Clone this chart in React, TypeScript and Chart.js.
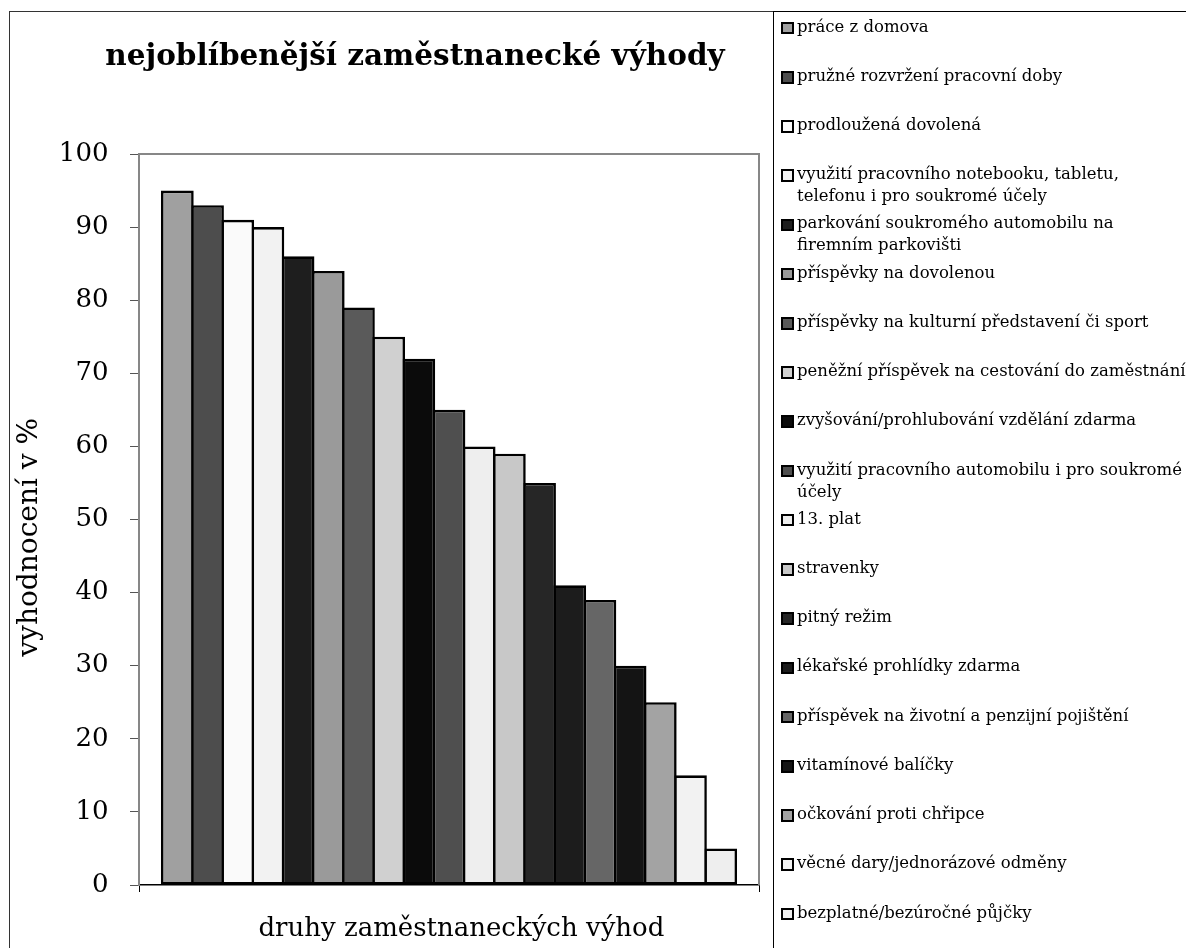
import React, { useEffect, useRef } from "react";
import { Chart, registerables } from "chart.js";

Chart.register(...registerables);

// ---------- data ----------
const chartTitle = "nejoblíbenější zaměstnanecké výhody";
const yAxisTitle = "vyhodnocení v %";
const xAxisTitle = "druhy zaměstnaneckých výhod";

const benefitLabels = [
  "práce z domova",
  "pružné rozvržení pracovní doby",
  "prodloužená dovolená",
  "využití pracovního notebooku, tabletu,\ntelefonu i pro soukromé účely",
  "parkování soukromého automobilu na\nfiremním parkovišti",
  "příspěvky na dovolenou",
  "příspěvky na kulturní představení či sport",
  "peněžní příspěvek na cestování do zaměstnání",
  "zvyšování/prohlubování vzdělání zdarma",
  "využití pracovního automobilu i pro soukromé\núčely",
  "13. plat",
  "stravenky",
  "pitný režim",
  "lékařské prohlídky zdarma",
  "příspěvek na životní a penzijní pojištění",
  "vitamínové balíčky",
  "očkování proti chřipce",
  "věcné dary/jednorázové odměny",
  "bezplatné/bezúročné půjčky",
];

const benefitValues = [95, 93, 91, 90, 86, 84, 79, 75, 72, 65, 60, 59, 55, 41, 39, 30, 25, 15, 5];

const benefitColors = [
  "#a0a0a0", "#4d4d4d", "#fafafa", "#f2f2f2", "#1e1e1e", "#9a9a9a", "#5a5a5a",
  "#d0d0d0", "#0b0b0b", "#4f4f4f", "#eeeeee", "#c8c8c8", "#262626", "#1c1c1c",
  "#666666", "#141414", "#a3a3a3", "#f2f2f2", "#eeeeee",
];

const yMin = 0;
const yMax = 100;
const yStep = 10;

// ---------- layout ----------
const FONT = "'DejaVu Serif', 'Liberation Serif', serif";
const CANVAS_LEFT = 10;
const CANVAS_TOP = 12;
const CANVAS_W = 810;
const CANVAS_H = 936;

const plotFramePlugin = {
  id: "plotFrame",
  afterDraw(chart: any) {
    const { ctx, chartArea } = chart;
    ctx.save();
    ctx.strokeStyle = "#878787";
    ctx.lineWidth = 2;
    ctx.beginPath();
    ctx.moveTo(chartArea.left, chartArea.top);
    ctx.lineTo(chartArea.right, chartArea.top);
    ctx.lineTo(chartArea.right, chartArea.bottom);
    ctx.stroke();
    ctx.restore();
  },
};

function BarChart() {
  const ref = useRef<HTMLCanvasElement | null>(null);

  useEffect(() => {
    if (!ref.current) return;
    const chart = new Chart(ref.current, {
      type: "bar",
      data: {
        labels: [""],
        datasets: benefitLabels.map((label, i) => ({
          label: label.replace("\n", " "),
          data: [benefitValues[i]],
          backgroundColor: benefitColors[i],
          borderColor: "#000000",
          borderWidth: 2.6,
          borderSkipped: false,
          yAxisID: "y",
          categoryPercentage: 0.925,
          barPercentage: 1.085,
        })),
      },
      options: {
        animation: false,
        responsive: false,
        devicePixelRatio: 1,
        layout: { padding: 0 },
        plugins: {
          legend: { display: false },
          tooltip: { enabled: false },
          title: {
            display: true,
            text: chartTitle,
            color: "#000000",
            font: { family: FONT, size: 29.5, weight: "bold", lineHeight: 1.2 },
            padding: { top: 28, bottom: 78.6 },
          },
        },
        scales: {
          x: {
            type: "category",
            offset: true,
            grid: {
              display: true,
              drawOnChartArea: false,
              drawTicks: true,
              tickLength: 7,
              color: "#000000",
              lineWidth: 1,
              offset: true,
            },
            border: { display: true, color: "#000000", width: 1.5 },
            ticks: { display: false },
            title: {
              display: true,
              text: "   " + xAxisTitle,
              color: "#000000",
              font: { family: FONT, size: 26, lineHeight: 1.2 },
              padding: { top: 0, bottom: 3.4 },
            },
            afterFit: (s: any) => {
              s.height = 63;
            },
          },
          y: {
            type: "linear",
            position: "left",
            min: yMin,
            max: yMax,
            grid: {
              display: true,
              drawOnChartArea: false,
              drawTicks: true,
              tickLength: 9,
              color: "#555555",
              lineWidth: 1,
            },
            border: { display: true, color: "#878787", width: 2 },
            ticks: {
              stepSize: yStep,
              color: "#000000",
              padding: 21.5,
              font: { family: FONT, size: 26 },
            },
            title: {
              display: true,
              text: yAxisTitle + "    ",
              color: "#000000",
              font: { family: FONT, size: 28, lineHeight: 1.2 },
              padding: { top: 2.8, bottom: 0 },
            },
            afterFit: (s: any) => {
              s.width = 129;
            },
          },
          yRight: {
            type: "linear",
            position: "right",
            display: true,
            grid: { display: false },
            border: { display: false },
            ticks: { display: false },
            title: { display: false },
            afterFit: (s: any) => {
              s.width = 61;
            },
          },
        },
      },
      plugins: [plotFramePlugin],
    } as any);
    return () => chart.destroy();
  }, []);

  return (
    <canvas
      ref={ref}
      width={CANVAS_W}
      height={CANVAS_H}
      style={{
        position: "absolute",
        left: CANVAS_LEFT,
        top: CANVAS_TOP,
        width: CANVAS_W,
        height: CANVAS_H,
      }}
    />
  );
}

function Legend() {
  const firstCenter = 27;
  const pitch = 49.22;
  return (
    <div
      style={{
        position: "absolute",
        left: 773,
        top: 11,
        width: 440,
        height: 960,
        borderLeft: "1px solid #000",
        borderTop: "1px solid #000",
      }}
    >
      {benefitLabels.map((label, i) => {
        const center = firstCenter + i * pitch - 11;
        return (
          <div key={i} style={{ position: "absolute", left: 0, top: center - 12.4, width: 440 }}>
            <span
              style={{
                position: "absolute",
                left: 7,
                top: 12.4 - 6.3,
                width: 8.6,
                height: 8.6,
                border: "2px solid #000",
                background: benefitColors[i],
              }}
            />
            <div
              style={{
                position: "absolute",
                left: 23,
                top: 0,
                whiteSpace: "pre",
                fontFamily: FONT,
                fontSize: 16.5,
                lineHeight: "22px",
                color: "#000",
              }}
            >
              {label}
            </div>
          </div>
        );
      })}
    </div>
  );
}

export default function App() {
  return (
    <div
      style={{
        position: "fixed",
        left: 0,
        top: 0,
        width: 1186,
        height: 948,
        overflow: "hidden",
        background: "#fff",
      }}
    >
      <div
        style={{
          position: "absolute",
          left: 9,
          top: 11,
          width: 1200,
          height: 1000,
          border: "1px solid #333",
        }}
      />
      <BarChart />
      <Legend />
    </div>
  );
}
